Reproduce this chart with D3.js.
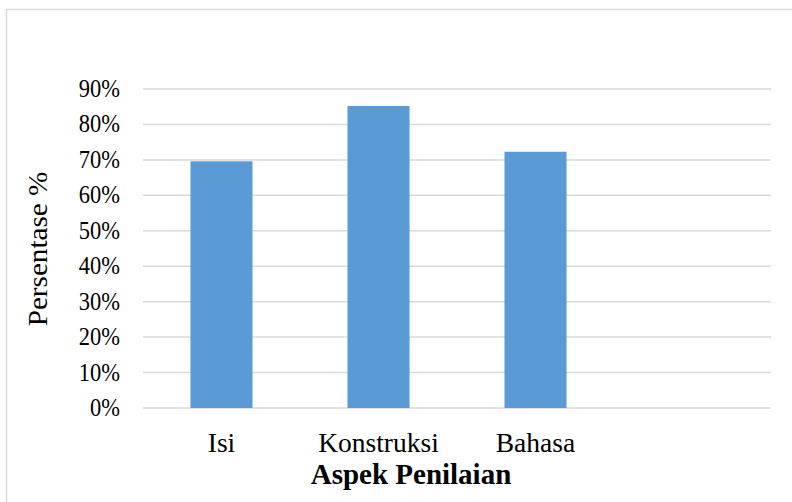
<!DOCTYPE html>
<html>
<head>
<meta charset="utf-8">
<script src="https://cdn.jsdelivr.net/npm/d3@7"></script>
<style>
  body { margin: 0; background: #fff; }
  svg text { font-family: "Times New Roman", "Liberation Serif", serif; fill: #000; }
</style>
</head>
<body>
<div id="chart"></div>
<script>
var categories = ["Isi", "Konstruksi", "Bahasa", ""];
var values = [69.6, 85.2, 72.3, null];
var yTicks = [0, 10, 20, 30, 40, 50, 60, 70, 80, 90];

(function () {
  var width = 792, height = 502;
  var left = 143, right = 771, top = 89, bottom = 408;
  var serif = "'Liberation Serif', 'Times New Roman', serif";

  var svg = d3.select("#chart").append("svg")
    .attr("width", width)
    .attr("height", height);

  // chart frame, runs past the right and bottom of the picture
  svg.append("rect")
    .attr("x", 6.5).attr("y", 9.5)
    .attr("width", 800).attr("height", 510)
    .attr("fill", "none")
    .attr("stroke", "#d9d9d9")
    .attr("stroke-width", 1.5);

  var x = d3.scaleBand()
    .domain(categories.map(function (d, i) { return i; }))
    .range([left, right])
    .paddingInner(0.605)
    .paddingOuter(0.3025);

  var y = d3.scaleLinear().domain([0, 90]).range([bottom, top]);

  // gridlines
  svg.append("g").selectAll("line")
    .data(yTicks)
    .enter().append("line")
    .attr("x1", left).attr("x2", right)
    .attr("y1", function (d) { return y(d); })
    .attr("y2", function (d) { return y(d); })
    .attr("stroke", "#d9d9d9")
    .attr("stroke-width", 1.5);

  // tick labels
  svg.append("g").selectAll("text")
    .data(yTicks)
    .enter().append("text")
    .attr("transform", function (d) { return "translate(120," + (y(d) + 8) + ") scale(1,1.08)"; })
    .attr("text-anchor", "end")
    .attr("font-family", serif)
    .style("font-size", "22.5px")
    .text(function (d) { return d + "%"; });

  // bars
  svg.append("g").selectAll("rect")
    .data(values.map(function (v, i) { return { v: v, i: i }; }).filter(function (d) { return d.v != null; }))
    .enter().append("rect")
    .attr("x", function (d) { return x(d.i); })
    .attr("width", x.bandwidth())
    .attr("y", function (d) { return y(d.v); })
    .attr("height", function (d) { return y(0) - y(d.v); })
    .attr("fill", "#5b9bd5");

  // category labels
  svg.append("g").selectAll("text")
    .data(categories)
    .enter().append("text")
    .attr("x", function (d, i) { return x(i) + x.bandwidth() / 2; })
    .attr("y", 452)
    .attr("text-anchor", "middle")
    .attr("font-family", serif)
    .style("font-size", "27.5px")
    .text(function (d) { return d; });

  svg.append("text")
    .attr("x", 411).attr("y", 484)
    .attr("text-anchor", "middle")
    .attr("font-family", serif)
    .style("font-size", "29px")
    .style("font-weight", "bold")
    .text("Aspek Penilaian");

  svg.append("text")
    .attr("transform", "translate(46.5,249) rotate(-90) scale(1.08,1)")
    .attr("text-anchor", "middle")
    .attr("font-family", serif)
    .style("font-size", "27px")
    .text("Persentase %");
})();
</script>
</body>
</html>
